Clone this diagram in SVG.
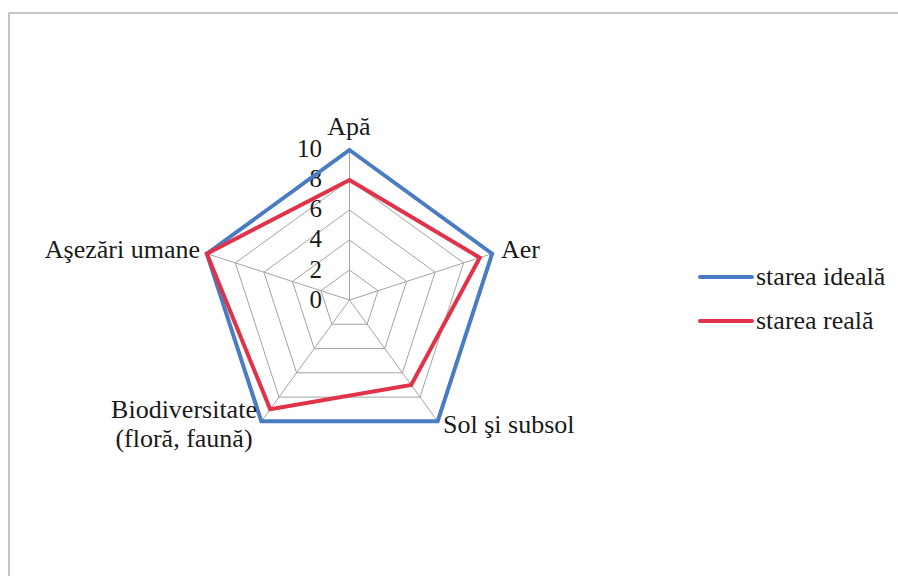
<svg xmlns="http://www.w3.org/2000/svg" width="898" height="576" viewBox="0 0 898 576">
  <style>
    .t { font-family: 'Liberation Serif', serif; font-size: 26px; fill: #1a1a1a; }
    .tick { font-family: 'Liberation Serif', serif; font-size: 25px; fill: #1a1a1a; text-anchor: end; }
    .grid { fill: none; stroke: #a3a3a3; stroke-width: 1; }
    .ideal { fill: none; stroke: #4a7cc4; stroke-width: 4; stroke-linejoin: miter; }
    .real { fill: none; stroke: #e0334a; stroke-width: 4; stroke-linejoin: miter; }
  </style>
  <rect x="0" y="0" width="898" height="576" fill="#ffffff"/>
  <path id="frame" d="M9,576 V13 H898" fill="none" stroke="#b3b3b3" stroke-width="1.5"/>

  <g id="grid">
    <polygon class="grid" points="349.5,270 378.03,290.73 367.13,324.27 331.87,324.27 320.97,290.73"/>
    <polygon class="grid" points="349.5,240 406.56,281.46 384.77,348.54 314.23,348.54 292.44,281.46"/>
    <polygon class="grid" points="349.5,210 435.10,272.19 402.40,372.81 296.60,372.81 263.90,272.19"/>
    <polygon class="grid" points="349.5,180 463.63,262.92 420.03,397.08 278.97,397.08 235.37,262.92"/>
    <polygon class="grid" points="349.5,150 492.16,253.65 437.67,421.35 261.33,421.35 206.84,253.65"/>
    <path class="grid" d="M349.5,300 L349.5,150 M349.5,300 L492.16,253.65 M349.5,300 L437.67,421.35 M349.5,300 L261.33,421.35 M349.5,300 L206.84,253.65"/>
  </g>

  <g id="ticks">
    <text class="tick" x="322" y="157">10</text>
    <text class="tick" x="322" y="187">8</text>
    <text class="tick" x="322" y="217">6</text>
    <text class="tick" x="322" y="247">4</text>
    <text class="tick" x="322" y="278">2</text>
    <text class="tick" x="322" y="308">0</text>
  </g>

  <g id="connectors">
    <polygon id="series-ideal" class="ideal" points="349.5,150 492.16,253.65 437.67,421.35 261.33,421.35 206.84,253.65"/>
    <polygon id="series-real" class="real" points="349.5,180 479.80,257.66 411.22,384.95 270.15,409.22 206.84,253.65"/>
  </g>

  <g id="axis-apa"><text class="t" x="349" y="135" text-anchor="middle">Apă</text></g>
  <g id="axis-aer"><text class="t" x="501" y="258">Aer</text></g>
  <g id="axis-sol"><text class="t" x="443" y="433">Sol şi subsol</text></g>
  <g id="axis-bio">
    <text class="t" x="184" y="418" text-anchor="middle">Biodiversitate</text>
    <text class="t" x="184" y="447" text-anchor="middle">(floră, faună)</text>
  </g>
  <g id="axis-asezari"><text class="t" x="200" y="258" text-anchor="end">Aşezări umane</text></g>

  <g id="legend">
    <g id="legend-ideal">
      <line x1="700" y1="277" x2="752" y2="277" stroke="#4a7cc4" stroke-width="4" stroke-linecap="round"/>
      <text class="t" x="756" y="285">starea ideală</text>
    </g>
    <g id="legend-real">
      <line x1="700" y1="321" x2="752" y2="321" stroke="#e0334a" stroke-width="4" stroke-linecap="round"/>
      <text class="t" x="756" y="329">starea reală</text>
    </g>
  </g>
</svg>
